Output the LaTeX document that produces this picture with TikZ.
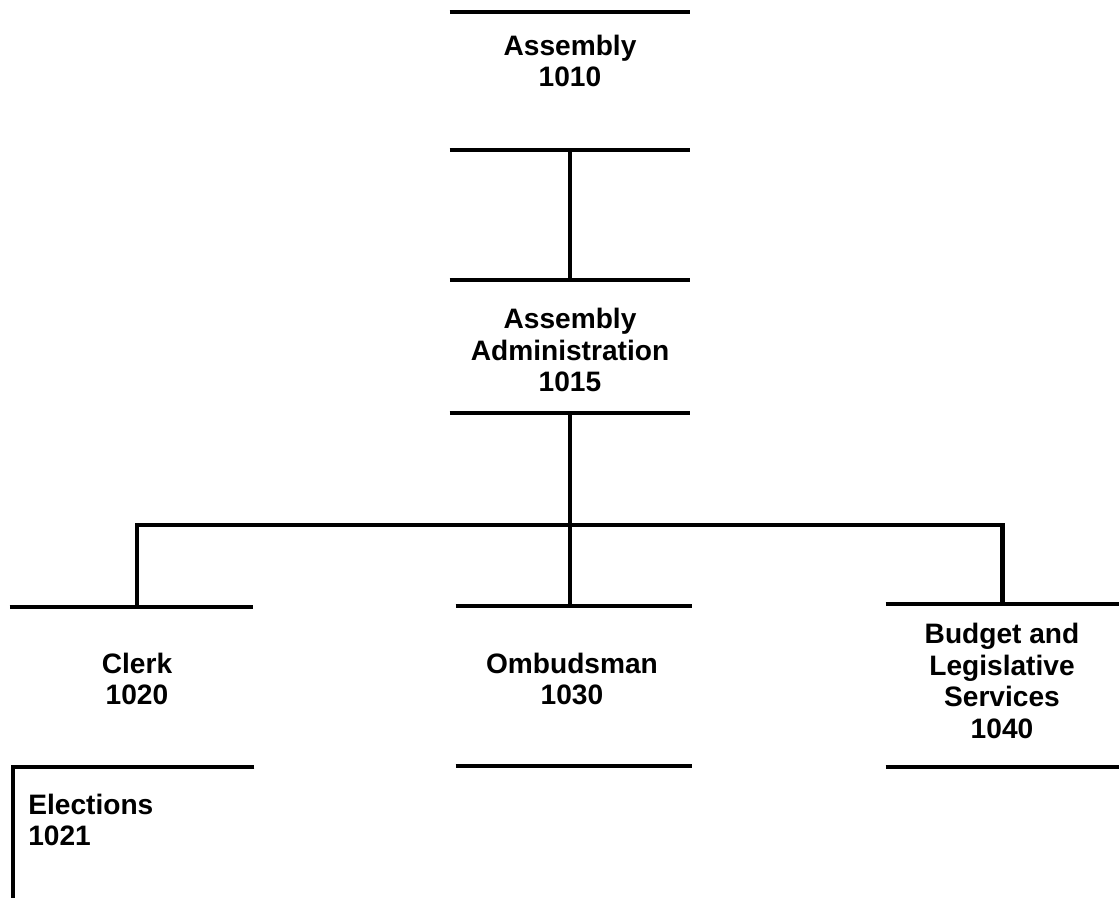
\documentclass[tikz,border=0pt]{standalone}
\usepackage{fontspec}
\setmainfont{Liberation Sans}
\usepackage{tikz}

\tikzset{
  bar/.style={line width=2.4pt},
  unit/.style={inner sep=0pt},
  txt/.style={align=center, inner sep=0pt, font=\bfseries\fontsize{16}{18}\selectfont}
}

\begin{document}
\begin{tikzpicture}[x=0.02cm, y=-0.02cm]
	\useasboundingbox (0,0) rectangle (1119,898);
	% boxes
	\node[unit, minimum width=4.8cm, minimum height=2.76cm] (asm) at (570,81) {};
	\node[unit, minimum width=4.8cm, minimum height=2.66cm] (adm) at (570,346.5) {};
	\node[unit, minimum width=4.86cm, minimum height=3.2cm] (clk) at (131.5,687) {};
	\node[unit, minimum width=4.72cm, minimum height=3.2cm] (omb) at (574,686) {};
	\node[unit, minimum width=4.66cm, minimum height=3.26cm] (bls) at (1002.5,685.5) {};
	\node[unit, minimum width=4.82cm, minimum height=2.62cm] (elc) at (133.5,832.5) {};

	\foreach \n in {asm,adm,omb,bls}{
	  \draw[bar] (\n.north west) -- (\n.north east) (\n.south west) -- (\n.south east);
	}
	\draw[bar] (clk.north west) -- (clk.north east);
	\draw[bar] (elc.north east) -- (elc.north west) -- (elc.south west);

	% texts
	\node[txt] (asmT) at (570,61) {Assembly\\1010};
	\node[txt] (admT) at (570,350) {Assembly\\Administration\\1015};
	\node[txt] (clkT) at (137,679) {Clerk\\1020};
	\node[txt] (ombT) at (572,679) {Ombudsman\\1030};
	\node[txt] (blsT) at (1002,681) {Budget and\\Legislative\\Services\\1040};
	\node[txt, align=left, anchor=west] (elcT) at (28,820) {Elections\\1021};

	% connectors
	\coordinate (bus) at (570,525);
	\draw[bar] (asm.south) -- (adm.north);
	\draw[bar] (adm.south) -- (adm.south |- omb.north);
	\draw[bar] (bus) -| ([xshift=0.11cm]clk.north);
	\draw[bar] (bus) -| (bls.north);
\end{tikzpicture}
\end{document}
